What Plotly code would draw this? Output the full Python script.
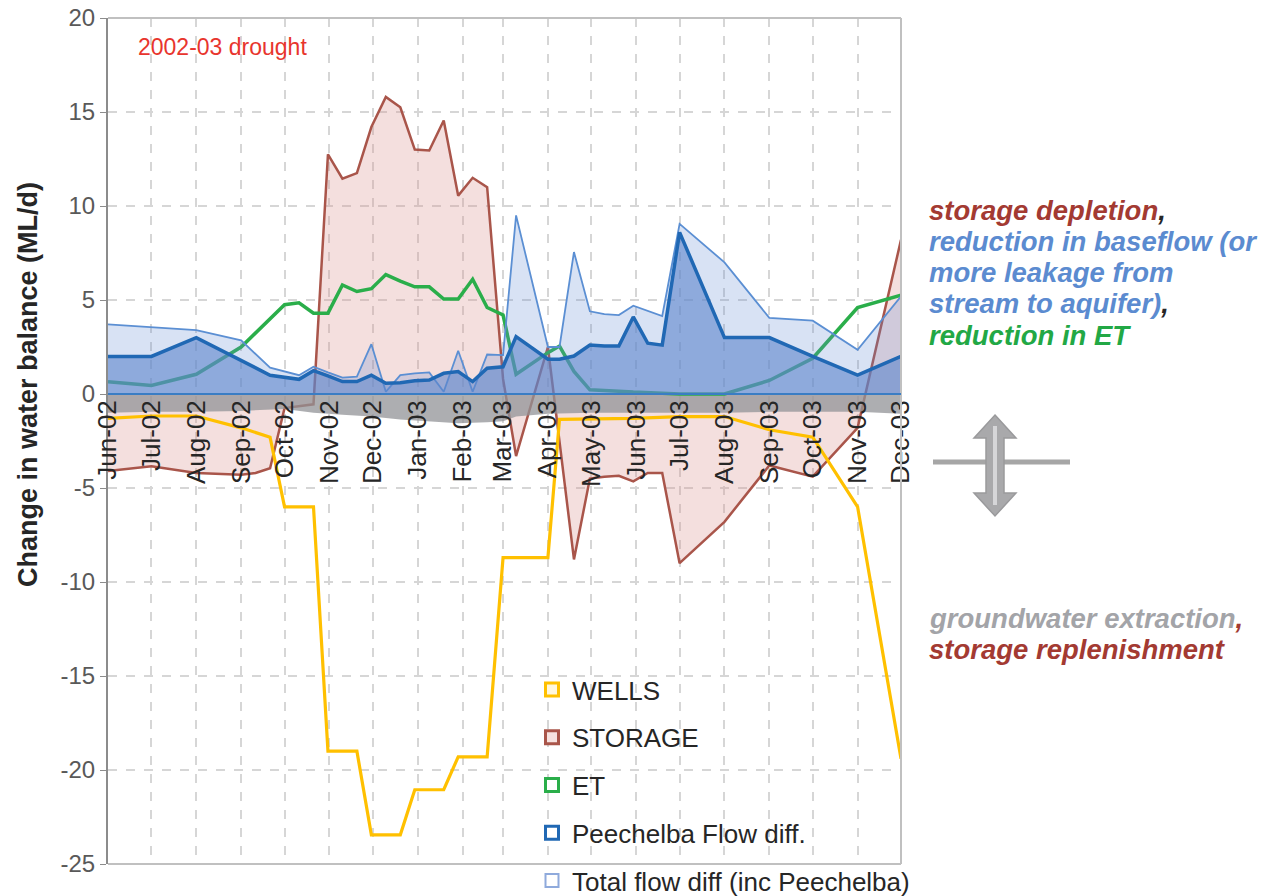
import plotly.graph_objects as go

# ---------------- data ----------------
wells_dates = ["2002-06-01", "2002-07-01", "2002-08-01", "2002-09-01", "2002-09-21", "2002-10-01",
               "2002-10-21", "2002-10-31", "2002-11-20", "2002-11-30", "2002-12-20", "2002-12-30",
               "2003-01-19", "2003-01-29", "2003-02-18", "2003-03-01", "2003-04-01", "2003-04-09",
               "2003-05-30", "2003-07-01", "2003-08-01", "2003-09-01", "2003-10-01", "2003-11-01",
               "2003-12-01"]
wells_vals = [-1.3, -1.17, -1.17, -1.8, -2.3, -6.0,
              -6.0, -19.0, -19.0, -23.45, -23.45, -21.05,
              -21.05, -19.3, -19.3, -8.7, -8.7, -1.35,
              -1.3, -1.2, -1.2, -1.9, -2.3, -6.0,
              -19.4]

storage_dates = ["2002-06-01", "2002-07-01", "2002-08-01", "2002-09-01", "2002-09-11", "2002-09-21",
                 "2002-10-01", "2002-10-11", "2002-10-21", "2002-10-31", "2002-11-10", "2002-11-20",
                 "2002-11-30", "2002-12-10", "2002-12-20", "2002-12-30", "2003-01-09", "2003-01-19",
                 "2003-01-29", "2003-02-08", "2003-02-18", "2003-03-01", "2003-03-10", "2003-04-01",
                 "2003-04-19", "2003-04-30", "2003-05-10", "2003-05-20", "2003-05-30", "2003-06-09",
                 "2003-06-19", "2003-07-01", "2003-08-01", "2003-09-01", "2003-10-01", "2003-11-01",
                 "2003-12-01"]
storage_vals = [-4.1, -3.85, -4.2, -4.3, -4.2, -3.95,
                -0.75, -0.65, -0.55, 12.75, 11.45, 11.75,
                14.2, 15.8, 15.25, 13.0, 12.95, 14.55,
                10.55, 11.5, 11.0, 0.8, -3.3, 2.5,
                -8.8, -4.5, -4.4, -4.35, -4.65, -4.2,
                -4.2, -9.0, -6.8, -3.8, -4.4, -1.8,
                8.2]

et_dates = ["2002-06-01", "2002-07-01", "2002-08-01", "2002-09-01", "2002-10-01", "2002-10-11",
            "2002-10-21", "2002-10-31", "2002-11-10", "2002-11-20", "2002-11-30", "2002-12-10",
            "2002-12-20", "2002-12-30", "2003-01-09", "2003-01-19", "2003-01-29", "2003-02-08",
            "2003-02-18", "2003-03-01", "2003-03-10", "2003-04-01", "2003-04-09", "2003-04-19",
            "2003-04-30", "2003-05-10", "2003-05-20", "2003-05-30", "2003-07-01", "2003-08-01",
            "2003-09-01", "2003-10-01", "2003-11-01", "2003-12-01"]
et_vals = [0.65, 0.45, 1.05, 2.5, 4.75, 4.85,
           4.3, 4.3, 5.8, 5.45, 5.6, 6.35,
           6.0, 5.7, 5.7, 5.05, 5.05, 6.1,
           4.6, 4.2, 1.05, 2.2, 2.55, 1.2,
           0.22, 0.2, 0.15, 0.1, 0.0, 0.0,
           0.72, 1.9, 4.6, 5.25]

peech_dates = ["2002-06-01", "2002-07-01", "2002-08-01", "2002-09-21", "2002-10-11", "2002-10-21",
               "2002-10-31", "2002-11-10", "2002-11-20", "2002-11-30", "2002-12-10", "2002-12-20",
               "2002-12-30", "2003-01-09", "2003-01-19", "2003-01-29", "2003-02-08", "2003-02-18",
               "2003-03-01", "2003-03-10", "2003-04-01", "2003-04-09", "2003-04-19", "2003-04-30",
               "2003-05-10", "2003-05-20", "2003-05-30", "2003-06-09", "2003-06-19", "2003-07-01",
               "2003-08-01", "2003-09-01", "2003-10-01", "2003-11-01", "2003-12-01"]
peech_vals = [2.0, 2.0, 3.0, 1.0, 0.78, 1.24,
              0.96, 0.66, 0.66, 1.0, 0.57, 0.6,
              0.7, 0.74, 1.1, 1.19, 0.66, 1.37,
              1.45, 3.05, 1.85, 1.85, 2.02, 2.6,
              2.55, 2.55, 4.1, 2.7, 2.6, 8.6,
              3.0, 3.0, 2.0, 1.0, 2.0]

total_dates = ["2002-06-01", "2002-07-01", "2002-08-01", "2002-09-01", "2002-09-21", "2002-10-11",
               "2002-10-21", "2002-10-31", "2002-11-10", "2002-11-20", "2002-11-30", "2002-12-10",
               "2002-12-20", "2002-12-30", "2003-01-09", "2003-01-19", "2003-01-29", "2003-02-08",
               "2003-02-18", "2003-03-01", "2003-03-10", "2003-04-01", "2003-04-09", "2003-04-19",
               "2003-04-30", "2003-05-10", "2003-05-20", "2003-05-30", "2003-06-19", "2003-07-01",
               "2003-08-01", "2003-09-01", "2003-10-01", "2003-11-01", "2003-12-01"]
total_vals = [3.7, 3.55, 3.4, 2.85, 1.4, 1.0,
              1.45, 1.15, 0.87, 0.92, 2.65, 0.12,
              1.0, 1.1, 1.15, 0.12, 2.3, 0.12,
              2.1, 2.07, 9.5, 2.5, 2.5, 7.55,
              4.4, 4.25, 4.2, 4.7, 4.15, 9.05,
              7.0, 4.05, 3.9, 2.35, 5.2]

other_dates = ["2002-06-01", "2002-07-01", "2002-08-01", "2002-09-01", "2002-10-01", "2002-10-21",
               "2002-11-10", "2002-11-30", "2002-12-20", "2003-01-09", "2003-01-29", "2003-02-18",
               "2003-03-01", "2003-03-10", "2003-04-01", "2003-05-01", "2003-06-01", "2003-07-01",
               "2003-08-01", "2003-09-01", "2003-10-01", "2003-11-01", "2003-12-01"]
other_vals = [-1.0, -0.95, -0.95, -0.9, -0.8, -1.0,
              -1.1, -1.2, -1.35, -1.45, -1.55, -1.5,
              -1.45, -1.2, -1.05, -1.0, -1.0, -1.0,
              -1.0, -0.95, -0.95, -0.95, -1.05]

y_tick_vals = [-25, -20, -15, -10, -5, 0, 5, 10, 15, 20]
y_tick_text = ["-25", "-20", "-15", "-10", "-5", "0", "5", "10", "15", "20"]

legend_names = ["WELLS", "STORAGE", "ET", "Peechelba Flow diff.", "Total flow diff (inc Peechelba)"]

# ---------------- styling ----------------
FONT = "Liberation Sans, Arial, sans-serif"
C_WELLS = "#FFC000"
C_STOR = "#A9554A"
C_ET = "#2AAE4A"
C_PEECH = "#2068B4"
C_TOTAL = "#5B8FD3"

L, R, T, B = 108, 901, 18, 864
W, H = 1275, 896


def pxx(x):
    return (x - L) / (R - L)


def pyy(y):
    return (B - y) / (B - T)


fig = go.Figure()

fig.add_trace(go.Scatter(x=storage_dates, y=storage_vals, mode="lines", fill="tozeroy",
                         fillcolor="rgba(220,150,145,0.30)", line=dict(color=C_STOR, width=2.5),
                         showlegend=False, name="STORAGE"))
fig.add_trace(go.Scatter(x=other_dates, y=other_vals, mode="lines", fill="tozeroy",
                         fillcolor="rgba(145,147,151,0.75)", line=dict(width=0),
                         showlegend=False, name="Other"))
fig.add_trace(go.Scatter(x=et_dates, y=et_vals, mode="lines",
                         line=dict(color=C_ET, width=3.5), showlegend=False, name="ET"))
fig.add_trace(go.Scatter(x=total_dates, y=total_vals, mode="lines", fill="tozeroy",
                         fillcolor="rgba(100,140,210,0.25)", line=dict(color=C_TOTAL, width=1.8),
                         showlegend=False, name="Total flow diff (inc Peechelba)"))
fig.add_trace(go.Scatter(x=peech_dates, y=peech_vals, mode="lines", fill="tozeroy",
                         fillcolor="rgba(94,133,204,0.60)", line=dict(color=C_PEECH, width=3.5),
                         showlegend=False, name="Peechelba Flow diff."))
fig.add_trace(go.Scatter(x=wells_dates, y=wells_vals, mode="lines",
                         line=dict(color=C_WELLS, width=3.2), showlegend=False, name="WELLS"))

# legend entries (Excel-style hollow squares)
leg_border = [C_WELLS, C_STOR, C_ET, C_PEECH, "#8FAADC"]
leg_fill = ["#FFF7DD", "#F6E2E0", "white", "white", "white"]
for i, nm in enumerate(legend_names):
    fig.add_trace(go.Scatter(x=[None], y=[None], mode="markers", name=nm, legendgroup=f"g{i}",
                             marker=dict(symbol="square", size=13, color=leg_fill[i],
                                         line=dict(color=leg_border[i], width=3 if i < 4 else 2))))

shapes = [
    # frame
    dict(type="line", xref="paper", yref="paper", x0=0, x1=1, y0=1, y1=1,
         line=dict(color="#C0C0C0", width=2)),
    dict(type="line", xref="paper", yref="paper", x0=1, x1=1, y0=0, y1=1,
         line=dict(color="#C0C0C0", width=2)),
    dict(type="line", xref="paper", yref="paper", x0=0, x1=1, y0=0, y1=0,
         line=dict(color="#C0C0C0", width=2)),
    # blue zero line
    dict(type="line", xref="paper", yref="y", x0=0, x1=1, y0=0, y1=0, layer="above",
         line=dict(color="#3A7DC4", width=1.8)),
    # side symbol: horizontal line + double arrow
    dict(type="line", xref="paper", yref="paper", x0=pxx(933), x1=pxx(1070), y0=pyy(462), y1=pyy(462),
         line=dict(color="#A6A6A6", width=5)),
]
arrow_pts = [(995, 415), (1016, 438), (1004, 438), (1004, 493), (1016, 493), (995, 516),
             (974, 493), (986, 493), (986, 438), (974, 438)]
path = "M " + " L ".join(f"{pxx(x):.5f},{pyy(y):.5f}" for x, y in arrow_pts) + " Z"
shapes.append(dict(type="path", xref="paper", yref="paper", path=path,
                   fillcolor="#A9A9AB", line=dict(color="#9A9A9C", width=1.5)))
shapes.append(dict(type="line", xref="paper", yref="paper", x0=pxx(995), x1=pxx(995),
                   y0=pyy(426), y1=pyy(505), line=dict(color="#D6D6D8", width=4)))

ann = [
    dict(text="<b>Change in water balance (ML/d)</b>", xref="paper", yref="paper", x=pxx(28), y=pyy(385),
         textangle=-90, showarrow=False, font=dict(family=FONT, size=27, color="#262626"),
         xanchor="center", yanchor="middle"),
    dict(text="2002-03 drought", xref="paper", yref="paper", x=pxx(136), y=pyy(47), showarrow=False,
         xanchor="left", yanchor="middle", font=dict(family=FONT, size=23, color="#E8352D")),
]
red = "#A33A32"
blue = "#5B8BD0"
green = "#22A845"
gray = "#A3A4A8"
dark = "#262626"
side_lines = [
    (210, f"<b><i><span style='color:{red}'>storage depletion</span><span style='color:{dark}'>,</span></i></b>"),
    (241, f"<b><i><span style='color:{blue}'>reduction in baseflow (or</span></i></b>"),
    (272, f"<b><i><span style='color:{blue}'>more leakage from</span></i></b>"),
    (303, f"<b><i><span style='color:{blue}'>stream to aquifer)</span><span style='color:{dark}'>,</span></i></b>"),
    (335, f"<b><i><span style='color:{green}'>reduction in ET</span></i></b>"),
    (618, f"<b><i><span style='color:{gray}'>groundwater extraction</span><span style='color:{red}'>,</span></i></b>"),
    (649, f"<b><i><span style='color:{red}'>storage replenishment</span></i></b>"),
]
for yy, txt in side_lines:
    ann.append(dict(text=txt, xref="paper", yref="paper", x=pxx(927), y=pyy(yy), showarrow=False,
                    xanchor="left", yanchor="middle", font=dict(family=FONT, size=27.5)))

fig.update_layout(
    width=W, height=H,
    margin=dict(l=L, r=W - R, t=T, b=H - B, autoexpand=False),
    paper_bgcolor="white", plot_bgcolor="white",
    font=dict(family=FONT, color="#262626"),
    xaxis=dict(type="date", range=["2002-06-01", "2003-12-01"], tick0="2002-06-01", dtick="M1",
               tickformat="%b-%y", tickangle=-90, anchor="free", position=25 / 45,
               showgrid=True, gridcolor="#D6D6D6", griddash="dash", gridwidth=1.5,
               showline=False, zeroline=False, ticks="", automargin=False,
               tickfont=dict(family=FONT, size=26, color="#262626")),
    yaxis=dict(range=[-25, 20], tickmode="array", tickvals=y_tick_vals, ticktext=y_tick_text,
               showgrid=True, gridcolor="#D6D6D6",
               griddash="dash", gridwidth=1.5, zeroline=False, showline=True,
               linecolor="#8C8C8C", linewidth=2, ticks="outside", ticklen=6,
               tickcolor="#8C8C8C", automargin=False,
               tickfont=dict(family=FONT, size=24, color="#595959")),
    legend=dict(x=pxx(532), y=pyy(666), xanchor="left", yanchor="top", bgcolor="rgba(0,0,0,0)",
                font=dict(family=FONT, size=26, color="#262626"), tracegroupgap=11,
                traceorder="grouped"),
    shapes=shapes,
    annotations=ann,
)

fig.write_html("out.html", config={"displayModeBar": False},
               post_script="document.body.style.margin='0px';")
